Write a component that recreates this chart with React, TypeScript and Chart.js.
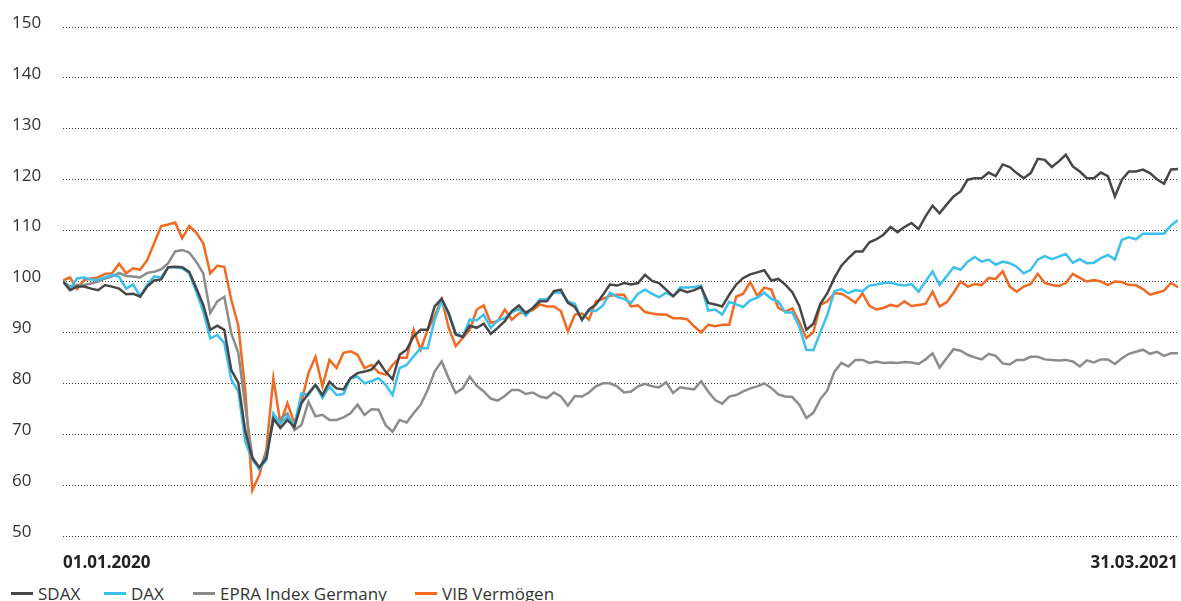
import React, { useEffect, useRef } from "react";
import { Chart, registerables } from "chart.js";

Chart.register(...registerables);

const xTickLabels = ["01.01.2020", "31.03.2021"];
const seriesNames = ["SDAX", "DAX", "EPRA Index Germany", "VIB Vermögen"];
const seriesColors = ["#474747", "#3cc0ee", "#8c8c8c", "#f06a22"];

const sdax = [
  100, 98.3, 99, 99, 98.6, 98.3, 99.3, 99, 98.6, 97.5, 97.6, 97, 99, 100.2, 100.4, 102.8, 102.9, 102.8, 101.9,
  98.7, 95.4, 90.5, 91.3, 90.5, 82.6, 80.1, 70.5, 65.3, 63.5, 65.3, 73.1, 71.2, 72.8, 71.4, 76.1, 78, 79.7, 77.7, 80.3, 79, 78.8,
  81, 82, 82.3, 82.7, 84.3, 82.3, 80.8, 85.6, 86.6, 89.2, 90.5, 90.5, 95.1, 96.6, 93.8, 89.6, 89.1, 91.3, 90.9, 91.7,
  89.7, 90.9, 92.2, 94.2, 95.3, 93.8, 94.8, 96.1, 96.1, 98.1, 98.4, 95.8, 95, 92.5, 94.5, 95.5, 97.4, 99.4, 99.2, 99.7,
  99.4, 99.7, 101.3, 100.1, 99.7, 98.4, 97.1, 98.4, 97.9, 98.3, 98.9, 95.8, 95.5, 95.1, 97.4, 99.4, 100.7, 101.4, 101.8, 102.2,
  100.2, 100.5, 99.4, 97.9, 95.2, 90.5, 91.7, 95.6, 97.7, 100.7, 103.1, 104.6, 105.9, 105.9, 107.7, 108.3, 109.2, 110.7, 109.7, 110.7,
  111.5, 110.3, 112.8, 114.9, 113.4, 115.1, 116.7, 117.7, 120, 120.3, 120.3, 121.4, 120.7, 123, 122.5, 121.3, 120.3, 121.3, 124.1, 123.9,
  122.5, 123.6, 124.9, 122.6, 121.6, 120.3, 120.3, 121.4, 120.7, 116.7, 120, 121.6, 121.6, 122, 121.3, 120.1, 119.2, 122, 122.1,
];

const dax = [
  100, 98.6, 100.6, 100.8, 100.4, 100.3, 100.8, 101.3, 100.9, 98.6, 99.4, 97.1, 99.3, 101, 100.8, 102.8, 102.8, 102.6, 101.6,
  98, 94.1, 88.8, 89.5, 87.9, 80.7, 78.4, 68.5, 64.9, 63.3, 64.9, 74.1, 72.1, 73.5, 71.8, 78, 77.7, 79.7, 77.1, 79.4, 77.7, 77.9,
  81, 81.3, 80, 80.4, 81, 79.7, 77.7, 83, 83.6, 85.3, 86.9, 86.9, 92.5, 96.1, 93.5, 89.9, 89.1, 92.5, 92.4, 93.5,
  90.9, 92.4, 92.8, 94, 94.6, 93.3, 94.8, 96.5, 96.5, 97.8, 97.9, 96.1, 95.6, 92.4, 94.3, 94.2, 95.3, 97.8, 97, 96.6,
  95.8, 97.6, 98.4, 97.6, 96.9, 97.8, 97.1, 98.8, 98.8, 98.9, 99.2, 94.3, 94.5, 93.5, 96, 95.5, 95, 96.3, 96.8, 97.8,
  96.6, 96.1, 93.9, 93.9, 91.1, 86.6, 86.5, 90, 93.5, 98.1, 98.5, 97.7, 98.3, 98.1, 99.2, 99.4, 99.7, 99.8, 99.4, 99.2,
  99.5, 98, 100, 102, 99.3, 101, 102.8, 102.3, 103.9, 104.8, 103.9, 104.3, 103.3, 103.9, 103.6, 102.9, 101.6, 102.3, 104.3, 105,
  104.4, 104.9, 105.4, 103.7, 104.4, 103.6, 103.7, 104.6, 105.2, 104.3, 108.2, 108.7, 108.3, 109.4, 109.4, 109.4, 109.4, 111, 112.1,
];

const epra = [
  100, 99, 99.3, 99.3, 99.6, 100, 100.6, 101, 101.7, 101.1, 101, 100.8, 101.7, 101.9, 102.4, 103.6, 105.9, 106.2, 105.7,
  103.9, 101.6, 93.8, 96.1, 97, 89.8, 86, 75.4, 65.6, 63, 66.3, 72.5, 73.1, 74.1, 70.8, 71.8, 76.4, 73.5, 73.8, 72.8, 72.8, 73.3,
  74.1, 75.8, 73.8, 74.9, 74.8, 71.8, 70.5, 72.8, 72.3, 74.1, 75.8, 78.7, 82.3, 84.3, 81, 78.1, 79, 81.3, 79.5, 78.4,
  77, 76.6, 77.5, 78.7, 78.7, 77.9, 78.2, 77.4, 77.1, 78.2, 77.4, 75.6, 77.5, 77.4, 78.2, 79.4, 80, 80, 79.4, 78.2,
  78.4, 79.4, 79.9, 79.4, 79.2, 80.2, 78.1, 79.2, 79, 78.8, 80.4, 78.4, 76.7, 76, 77.4, 77.7, 78.4, 79, 79.4, 80,
  79.1, 77.8, 77.4, 77.3, 75.8, 73.2, 74.2, 76.9, 78.6, 82.3, 84, 83.3, 84.6, 84.6, 84, 84.3, 84, 84.1, 84, 84.2,
  84.1, 83.8, 84.7, 85.9, 83.1, 84.9, 86.7, 86.4, 85.6, 85.1, 84.7, 85.8, 85.4, 83.9, 83.7, 84.6, 84.6, 85.2, 85.2, 84.7,
  84.6, 84.5, 84.6, 84.3, 83.3, 84.5, 84.1, 84.7, 84.7, 83.8, 84.9, 85.8, 86.2, 86.6, 85.8, 86.2, 85.4, 85.9, 85.9,
];

const vib = [
  100.2, 100.8, 98.5, 100.3, 100.6, 100.8, 101.5, 101.6, 103.5, 101.6, 102.6, 102.3, 104.2, 107.5, 110.9, 111.2, 111.6, 108.5, 110.9,
  109.6, 107.5, 101.6, 103.1, 102.9, 96.4, 91.3, 78.4, 59, 62, 67, 81, 72.1, 76.1, 72.1, 76.4, 82, 85.2, 79.4, 84.6, 83, 86,
  86.3, 85.6, 83, 83.6, 82.1, 81.7, 83.6, 85, 85, 90.5, 86.6, 90.5, 93.2, 96.5, 90.9, 87.3, 88.9, 90.5, 94.5, 95.3,
  91.9, 92.2, 94.5, 92.5, 93.7, 94, 94.4, 95.5, 95.1, 95.1, 94.2, 90.2, 93.5, 93.7, 92.5, 96.1, 96.6, 97.2, 97.4, 97.4,
  95.1, 95.3, 94, 93.7, 93.5, 93.5, 92.8, 92.8, 92.6, 91.2, 90, 91.5, 91.2, 91.5, 91.5, 97, 97.6, 99.9, 97.2, 98.8,
  98.4, 94.8, 94.1, 94.7, 92, 88.9, 90, 95.4, 96.1, 97.7, 97.6, 96.8, 95.8, 97.7, 95.2, 94.5, 94.8, 95.4, 95.1, 96.1,
  95.2, 95.4, 95.6, 98, 95.1, 95.9, 97.8, 100, 99, 99.5, 99.3, 100.7, 100.5, 102, 99, 98, 99, 99.5, 101.5, 99.7,
  99.3, 99.1, 99.7, 101.5, 100.7, 100, 100.3, 100, 99.3, 100, 99.9, 99.3, 99.3, 98.5, 97.4, 97.8, 98.2, 99.7, 98.9,
];

const seriesValues = [sdax, dax, epra, vib];

const FONT = "'Open Sans', 'Noto Sans', sans-serif";
const CANVAS_W = 1181;
const CANVAS_H = 575;

export default function App() {
  const canvasRef = useRef<HTMLCanvasElement | null>(null);

  useEffect(() => {
    if (!canvasRef.current) return;
    const lastIndex = sdax.length - 1;
    const datasets = seriesNames.map((name, s) => ({
      label: name,
      data: seriesValues[s].map((v, i) => ({ x: i, y: v })),
      borderColor: seriesColors[s],
      backgroundColor: seriesColors[s],
      borderWidth: 2.5,
      pointRadius: 0,
      tension: 0,
      fill: false,
    }));
    const chart = new Chart(canvasRef.current, {
      type: "line",
      data: { datasets },
      options: {
        animation: false,
        responsive: false,
        layout: { padding: { left: 12, right: 3, top: 27, bottom: 0 } },
        plugins: { legend: { display: false }, tooltip: { enabled: false } },
        scales: {
          x: {
            type: "linear",
            min: 0,
            max: lastIndex,
            grid: { display: false },
            border: { display: false },
            afterBuildTicks: (scale: any) => {
              scale.ticks = [{ value: 0 }, { value: lastIndex }];
            },
            afterFit: (scale: any) => {
              scale.height = 39;
              scale.paddingLeft = 0;
              scale.paddingRight = 0;
            },
            ticks: {
              autoSkip: false,
              maxRotation: 0,
              align: "inner",
              padding: 9,
              color: "#222",
              font: { family: FONT, size: 17, weight: "bold" },
              callback: (_v: any, idx: number) => xTickLabels[idx],
            },
          },
          y: {
            min: 50,
            max: 150,
            afterFit: (scale: any) => {
              scale.width = 51;
              scale.paddingTop = 0;
              scale.paddingBottom = 0;
            },
            grid: {
              color: "#3a3a3a",
              lineWidth: 1,
              drawTicks: false,
            },
            border: { display: false, dash: [1, 2] },
            ticks: {
              stepSize: 10,
              crossAlign: "far",
              labelOffset: -4,
              color: "#333",
              font: { family: FONT, size: 17 },
            },
          },
        },
      },
    });
    return () => chart.destroy();
  }, []);

  const legendLeft = [11, 104, 193, 415];

  return (
    <div style={{ position: "absolute", left: 0, top: 0, width: CANVAS_W, height: 620 }}>
      <canvas ref={canvasRef} width={CANVAS_W} height={CANVAS_H} style={{ display: "block" }} />
      {seriesNames.map((name, s) => (
        <div
          key={name}
          style={{
            position: "absolute",
            left: legendLeft[s],
            top: 582,
            display: "flex",
            alignItems: "center",
            fontFamily: FONT,
            fontSize: 17,
            lineHeight: "23px",
            color: "#333",
            whiteSpace: "nowrap",
          }}
        >
          <span style={{ display: "inline-block", width: 22, height: 3, background: seriesColors[s], marginRight: 5 }} />
          <span>{name}</span>
        </div>
      ))}
    </div>
  );
}
